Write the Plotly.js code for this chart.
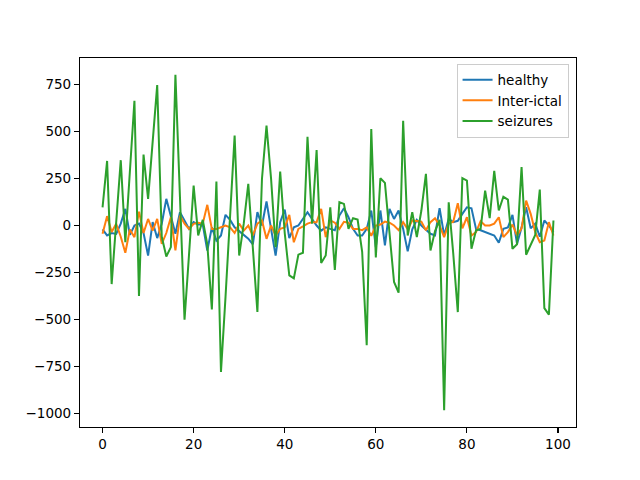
<!DOCTYPE html>
<html>
<head>
<meta charset="utf-8">
<script src="https://cdn.plot.ly/plotly-3.0.1.min.js"></script>
<style>
  html, body { margin: 0; padding: 0; background: #ffffff; }
  #chart { width: 640px; height: 480px; }
</style>
</head>
<body>
<div id="chart"></div>
<script>
const seriesNames = ["healthy", "Inter-ictal", "seizures"];
const seriesColors = ["#1f77b4", "#ff7f0e", "#2ca02c"];

const healthy = [
  -21, -53, -40, -45, 10, 89, -50, 0, 10, -40,
  -160, 18, -67, 10, 142, 53, -44, 71, 27, -18,
  18, 5, 5, -133, -10, -80, -53, 57, 30, -10,
  -30, -50, -70, -100, 71, 0, 128, -18, -160, 18,
  85, -67, -10, 0, 35, 71, 35, 0, -27, -10,
  -18, -25, 53, 92, 44, -18, -53, -53, -18, 80,
  -115, 80, -106, 89, 35, 80, -18, -138, -20, 30,
  0, -20, -44, -53, 92, -53, 35, 18, 25, 62,
  97, 92, -18, -25, -35, -44, -53, -92, -18, -10,
  57, -98, -10, 97, -15, 10, -60, 27, 0, -35
];

const interIctal = [
  -44, 50, -35, 9, -60, -145, -21, -62, 74, -40,
  35, -27, 35, -98, -40, 44, -133, 53, 10, -18,
  9, 15, 10, 110, -18, -18, -9, 0, -10, -40,
  10, -27, 0, -53, 10, 27, -71, 0, -53, -18,
  -10, 57, -89, -18, -5, 10, 18, 18, 89, -62,
  27, 15, -18, 20, 15, -18, -18, -25, -10, -55,
  0, 5, 21, 15, 0, -25, 18, -20, 27, 25,
  20, -25, 18, 39, 0, -62, 10, 20, 119, -15,
  44, -53, -35, 23, 0, 0, 10, 44, -62, -35,
  5, -53, -15, 133, 62, -35, -89, -80, 18, -53
];

const seizures = [
  97, 344, -312, 20, 348, -89, 290, 665, -376, 378,
  142, 450, 748, -60, -165, -115, 803, 150, -502, -150,
  213, -53, 30, -100, -447, 234, -780, -380, 40, 479,
  -160, 10, 222, -100, -461, 248, 532, 250, -115, 287,
  -40, -266, -282, -155, -145, 472, 10, 402, -200, -160,
  97, -236, 124, 115, -18, 39, 32, -140, -638, 514,
  -170, 252, 227, -40, -301, -358, 558, -53, 71, -62,
  80, 275, -133, -30, 30, -984, 124, -150, -461, 252,
  239, -124, -25, -18, 186, 39, 291, 80, 153, 138,
  -124, -100, 312, -156, -100, -50, 191, -440, -475, 27
];

const xTicks = [0, 20, 40, 60, 80, 100];
const yTicks = [-1000, -750, -500, -250, 0, 250, 500, 750];

const allSeries = [healthy, interIctal, seizures];
const traces = allSeries.map((ys, k) => ({
  x: ys.map((_, i) => i),
  y: ys,
  type: "scatter",
  mode: "lines",
  name: seriesNames[k],
  line: { color: seriesColors[k], width: 2 }
}));

const font = { family: "DejaVu Sans, sans-serif", size: 13.5, color: "#000" };

const layout = {
  width: 640,
  height: 480,
  paper_bgcolor: "#ffffff",
  plot_bgcolor: "#ffffff",
  margin: { l: 80, r: 64, t: 58, b: 53 },
  font: font,
  showlegend: true,
  legend: {
    x: 0.985, y: 0.985, xanchor: "right", yanchor: "top",
    bgcolor: "rgba(255,255,255,0.8)",
    bordercolor: "#cccccc",
    borderwidth: 1,
    font: font,
    tracegroupgap: 0
  },
  xaxis: {
    range: [-4.95, 103.95],
    tickmode: "array",
    tickvals: xTicks,
    ticktext: xTicks.map(String),
    ticks: "outside",
    ticklen: 5,
    tickwidth: 1.1,
    tickcolor: "#000",
    showline: true,
    linecolor: "#000",
    linewidth: 1.1,
    mirror: true,
    showgrid: false,
    zeroline: false,
    tickfont: font
  },
  yaxis: {
    range: [-1073.4, 892.4],
    tickmode: "array",
    tickvals: yTicks,
    ticktext: yTicks.map(v => v < 0 ? "\u2212" + Math.abs(v) : String(v)),
    ticks: "outside",
    ticklen: 5,
    tickwidth: 1.1,
    tickcolor: "#000",
    showline: true,
    linecolor: "#000",
    linewidth: 1.1,
    mirror: true,
    showgrid: false,
    zeroline: false,
    tickfont: font
  }
};

Plotly.newPlot("chart", traces, layout, { displayModeBar: false, staticPlot: true });
</script>
</body>
</html>
